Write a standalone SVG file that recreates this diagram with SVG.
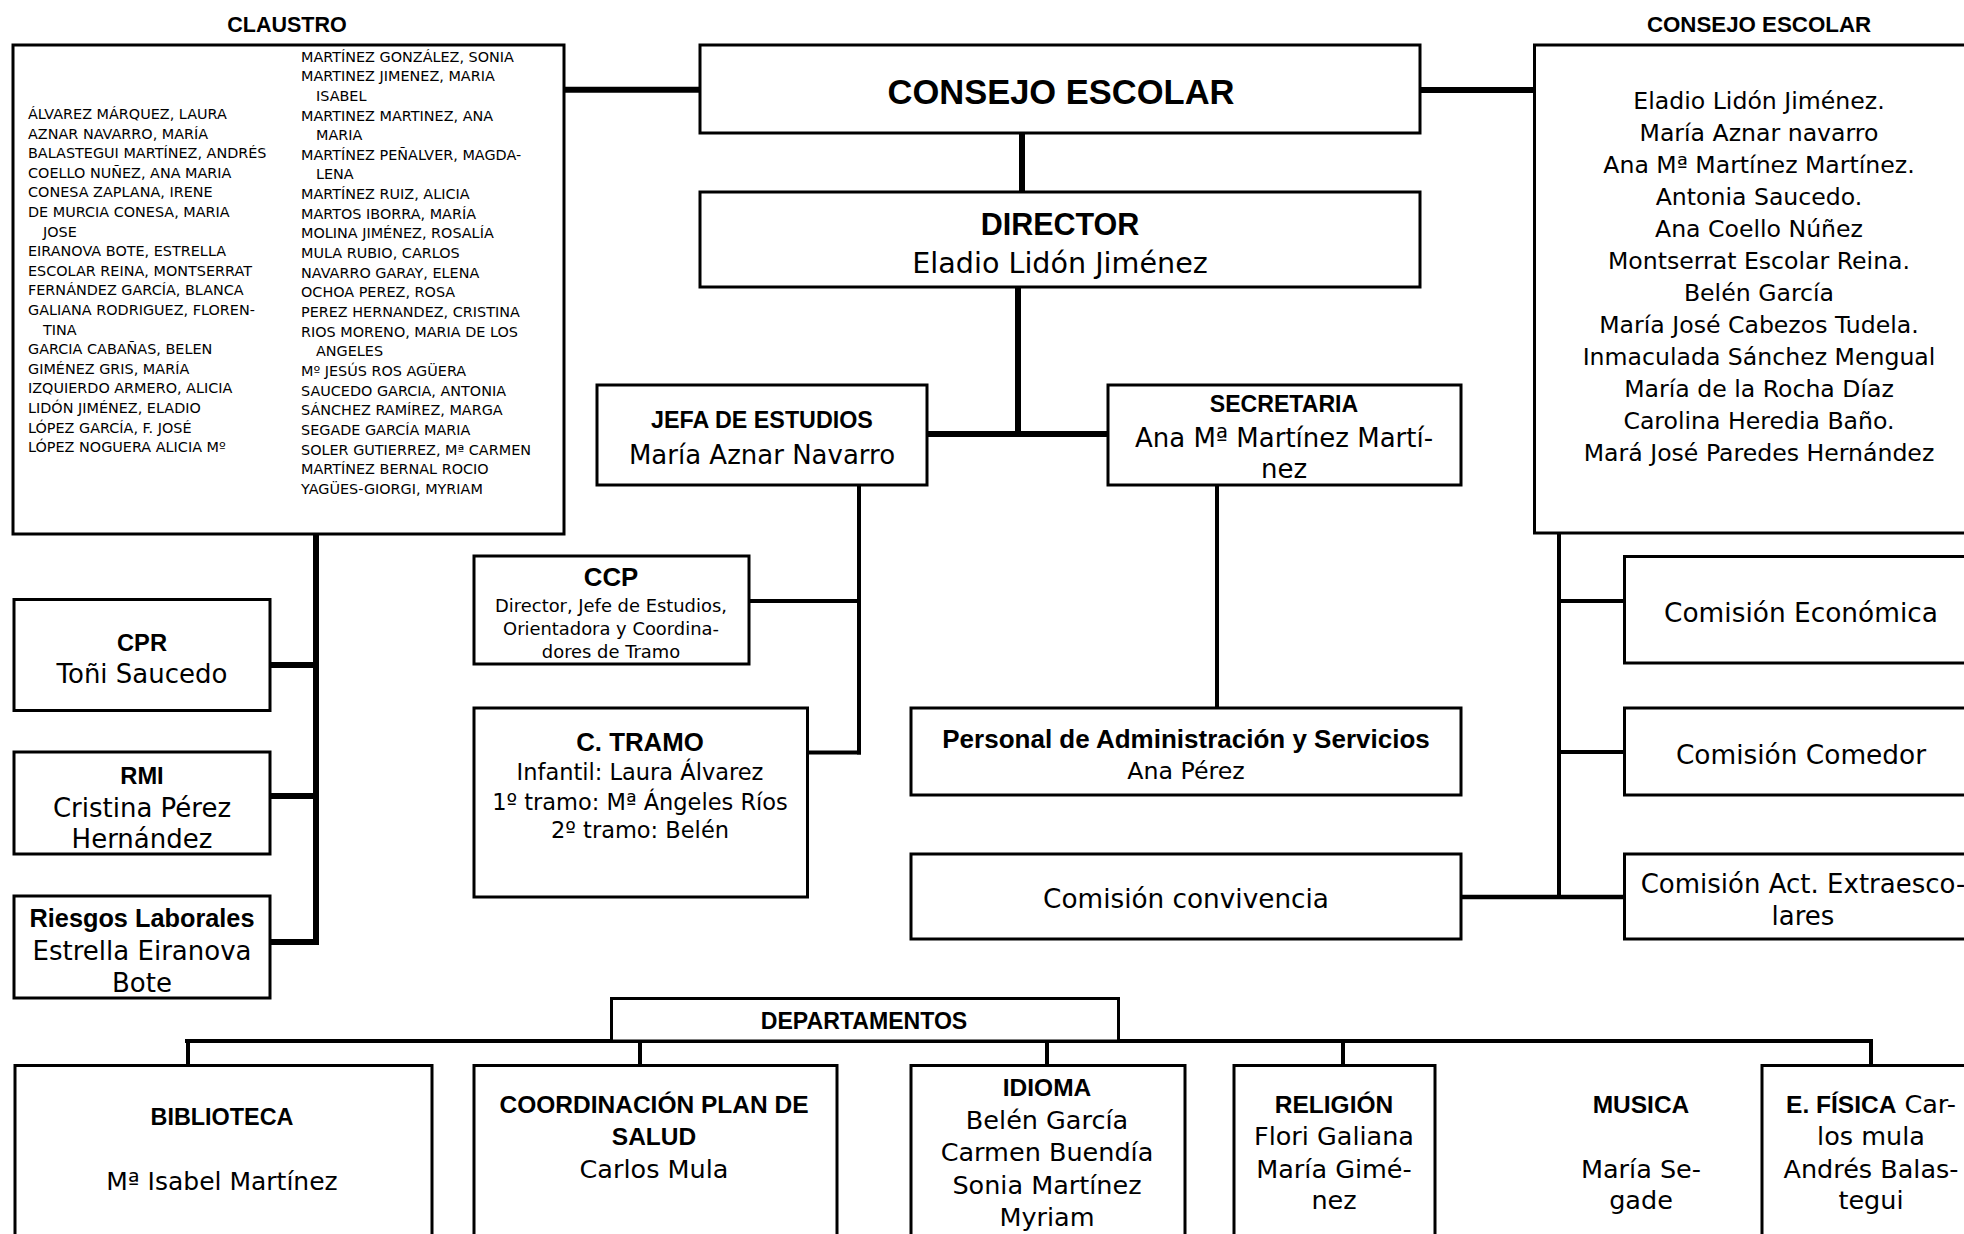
<svg xmlns="http://www.w3.org/2000/svg" width="1964" height="1234" viewBox="0 0 1964 1234">
<style>
.bx{fill:#fff;stroke:#000;stroke-width:3}
.c{fill:none;stroke:#000;stroke-linecap:butt}
.k{stroke-width:6}
.m{stroke-width:4}
.b{font-family:"Liberation Sans",Arial,sans-serif;font-weight:bold;fill:#000}
.r{font-family:"DejaVu Sans",sans-serif;fill:#000}
.mid{text-anchor:middle}
.cl{font-family:"DejaVu Sans",sans-serif;font-size:14.4px;fill:#000}
</style>
<rect width="1964" height="1234" fill="#fff"/>

<g id="connectors">
  <line class="c k" x1="564" y1="89.7" x2="700" y2="89.7"/>
  <line class="c k" x1="1420" y1="90" x2="1534" y2="90"/>
  <line class="c k" x1="1022" y1="133" x2="1022" y2="192"/>
  <line class="c k" x1="1018" y1="287" x2="1018" y2="434"/>
  <line class="c k" x1="927" y1="434" x2="1108" y2="434"/>
  <line class="c k" x1="316" y1="534" x2="316" y2="945"/>
  <line class="c k" x1="270" y1="665" x2="319" y2="665"/>
  <line class="c k" x1="270" y1="796" x2="319" y2="796"/>
  <line class="c k" x1="270" y1="942" x2="319" y2="942"/>
  <line class="c m" x1="859" y1="484" x2="859" y2="754.5"/>
  <line class="c m" x1="749" y1="601" x2="861" y2="601"/>
  <line class="c m" x1="807" y1="752.5" x2="861" y2="752.5"/>
  <line class="c m" x1="1217" y1="484" x2="1217" y2="708"/>
  <line class="c m" x1="1559" y1="533" x2="1559" y2="897"/>
  <line class="c m" x1="1559" y1="601" x2="1625" y2="601"/>
  <line class="c m" x1="1559" y1="752" x2="1625" y2="752"/>
  <line class="c" style="stroke-width:4.5" x1="1461" y1="897" x2="1625" y2="897"/>
  <line class="c m" x1="185" y1="1041" x2="1873" y2="1041"/>
  <line class="c m" x1="188" y1="1041" x2="188" y2="1065"/>
  <line class="c m" x1="640" y1="1041" x2="640" y2="1065"/>
  <line class="c m" x1="1047" y1="1041" x2="1047" y2="1065"/>
  <line class="c m" x1="1343" y1="1041" x2="1343" y2="1065"/>
  <line class="c m" x1="1871" y1="1041" x2="1871" y2="1065"/>
</g>

<g id="claustro">
  <text class="b mid" x="287" y="31.5" font-size="21.5">CLAUSTRO</text>
  <rect class="bx" x="13" y="45" width="551" height="489"/>
  <g class="cl">
    <text x="28" y="119">ÁLVAREZ MÁRQUEZ, LAURA</text>
    <text x="28" y="138.6">AZNAR NAVARRO, MARÍA</text>
    <text x="28" y="158.2">BALASTEGUI MARTÍNEZ, ANDRÉS</text>
    <text x="28" y="177.8">COELLO NUÑEZ, ANA MARIA</text>
    <text x="28" y="197.4">CONESA ZAPLANA, IRENE</text>
    <text x="28" y="217">DE MURCIA CONESA, MARIA</text>
    <text x="43" y="236.6">JOSE</text>
    <text x="28" y="256.2">EIRANOVA BOTE, ESTRELLA</text>
    <text x="28" y="275.8">ESCOLAR REINA, MONTSERRAT</text>
    <text x="28" y="295.4">FERNÁNDEZ GARCÍA, BLANCA</text>
    <text x="28" y="315">GALIANA RODRIGUEZ, FLOREN-</text>
    <text x="43" y="334.6">TINA</text>
    <text x="28" y="354.2">GARCIA CABAÑAS, BELEN</text>
    <text x="28" y="373.8">GIMÉNEZ GRIS, MARÍA</text>
    <text x="28" y="393.4">IZQUIERDO ARMERO, ALICIA</text>
    <text x="28" y="413">LIDÓN JIMÉNEZ, ELADIO</text>
    <text x="28" y="432.6">LÓPEZ GARCÍA, F. JOSÉ</text>
    <text x="28" y="452.2">LÓPEZ NOGUERA ALICIA Mº</text>
    <text x="301" y="61.5">MARTÍNEZ GONZÁLEZ, SONIA</text>
    <text x="301" y="81.2">MARTINEZ JIMENEZ, MARIA</text>
    <text x="316" y="100.8">ISABEL</text>
    <text x="301" y="120.5">MARTINEZ MARTINEZ, ANA</text>
    <text x="316" y="140.1">MARIA</text>
    <text x="301" y="159.8">MARTÍNEZ PEÑALVER, MAGDA-</text>
    <text x="316" y="179.4">LENA</text>
    <text x="301" y="199.1">MARTÍNEZ RUIZ, ALICIA</text>
    <text x="301" y="218.7">MARTOS IBORRA, MARÍA</text>
    <text x="301" y="238.4">MOLINA JIMÉNEZ, ROSALÍA</text>
    <text x="301" y="258">MULA RUBIO, CARLOS</text>
    <text x="301" y="277.7">NAVARRO GARAY, ELENA</text>
    <text x="301" y="297.3">OCHOA PEREZ, ROSA</text>
    <text x="301" y="317">PEREZ HERNANDEZ, CRISTINA</text>
    <text x="301" y="336.6">RIOS MORENO, MARIA DE LOS</text>
    <text x="316" y="356.3">ANGELES</text>
    <text x="301" y="375.9">Mº JESÚS ROS AGÜERA</text>
    <text x="301" y="395.6">SAUCEDO GARCIA, ANTONIA</text>
    <text x="301" y="415.2">SÁNCHEZ RAMÍREZ, MARGA</text>
    <text x="301" y="434.9">SEGADE GARCÍA MARIA</text>
    <text x="301" y="454.5">SOLER GUTIERREZ, Mª CARMEN</text>
    <text x="301" y="474.2">MARTÍNEZ BERNAL ROCIO</text>
    <text x="301" y="493.8">YAGÜES-GIORGI, MYRIAM</text>
  </g>
</g>

<g id="consejo-escolar">
  <rect class="bx" x="700" y="45" width="720" height="88"/>
  <text class="b mid" x="1061" y="103.5" font-size="34.5">CONSEJO ESCOLAR</text>
</g>

<g id="consejo-miembros">
  <text class="b mid" x="1759" y="32" font-size="22.3">CONSEJO ESCOLAR</text>
  <rect class="bx" x="1534.5" y="45" width="460" height="488"/>
  <g class="r mid" font-size="23.6">
    <text x="1759" y="108.5">Eladio Lidón Jiménez.</text>
    <text x="1759" y="140.5">María Aznar navarro</text>
    <text x="1759" y="172.5">Ana Mª Martínez Martínez.</text>
    <text x="1759" y="204.5">Antonia Saucedo.</text>
    <text x="1759" y="236.5">Ana Coello Núñez</text>
    <text x="1759" y="268.5">Montserrat Escolar Reina.</text>
    <text x="1759" y="300.5">Belén García</text>
    <text x="1759" y="332.5">María José Cabezos Tudela.</text>
    <text x="1759" y="364.5">Inmaculada Sánchez Mengual</text>
    <text x="1759" y="396.5">María de la Rocha Díaz</text>
    <text x="1759" y="428.5">Carolina Heredia Baño.</text>
    <text x="1759" y="460.5">Mará José Paredes Hernández</text>
  </g>
</g>

<g id="director">
  <rect class="bx" x="700" y="192" width="720" height="95"/>
  <text class="b mid" x="1060" y="235" font-size="30.5">DIRECTOR</text>
  <text class="r mid" x="1060" y="273" font-size="28.6">Eladio Lidón Jiménez</text>
</g>

<g id="jefa-estudios">
  <rect class="bx" x="597" y="385" width="330" height="100"/>
  <text class="b mid" x="762" y="427.5" font-size="23.3">JEFA DE ESTUDIOS</text>
  <text class="r mid" x="762" y="463.5" font-size="26">María Aznar Navarro</text>
</g>

<g id="secretaria">
  <rect class="bx" x="1108" y="385" width="353" height="100"/>
  <text class="b mid" x="1284" y="411.5" font-size="23.1">SECRETARIA</text>
  <text class="r mid" x="1284" y="446.5" font-size="26">Ana Mª Martínez Martí-</text>
  <text class="r mid" x="1284" y="477.5" font-size="26">nez</text>
</g>

<g id="cpr">
  <rect class="bx" x="14" y="599.5" width="256" height="111"/>
  <text class="b mid" x="142" y="650.5" font-size="23.7">CPR</text>
  <text class="r mid" x="142" y="682.5" font-size="26">Toñi Saucedo</text>
</g>

<g id="rmi">
  <rect class="bx" x="14" y="752" width="256" height="102"/>
  <text class="b mid" x="142" y="783.5" font-size="23.7">RMI</text>
  <text class="r mid" x="142" y="816.5" font-size="26">Cristina Pérez</text>
  <text class="r mid" x="142" y="847.5" font-size="26">Hernández</text>
</g>

<g id="riesgos">
  <rect class="bx" x="14" y="896" width="256" height="102"/>
  <text class="b mid" x="142" y="926.5" font-size="25.3">Riesgos Laborales</text>
  <text class="r mid" x="142" y="959.5" font-size="26">Estrella Eiranova</text>
  <text class="r mid" x="142" y="991.5" font-size="26">Bote</text>
</g>

<g id="ccp">
  <rect class="bx" x="474" y="556" width="275" height="108"/>
  <text class="b mid" x="611" y="586" font-size="25.8">CCP</text>
  <text class="r mid" x="611" y="611.5" font-size="17.9">Director, Jefe de Estudios,</text>
  <text class="r mid" x="611" y="634.5" font-size="17.9">Orientadora y Coordina-</text>
  <text class="r mid" x="611" y="657.5" font-size="17.9">dores de Tramo</text>
</g>

<g id="c-tramo">
  <rect class="bx" x="474" y="708" width="333.5" height="189"/>
  <text class="b mid" x="640" y="751" font-size="25.8">C. TRAMO</text>
  <text class="r mid" x="640" y="780" font-size="22.5">Infantil: Laura Álvarez</text>
  <text class="r mid" x="640" y="810" font-size="22.5">1º tramo: Mª Ángeles Ríos</text>
  <text class="r mid" x="640" y="838" font-size="22.5">2º tramo: Belén</text>
</g>

<g id="pas">
  <rect class="bx" x="911" y="708" width="550" height="87"/>
  <text class="b mid" x="1186" y="748" font-size="26">Personal de Administración y Servicios</text>
  <text class="r mid" x="1186" y="779" font-size="23.7">Ana Pérez</text>
</g>

<g id="comision-convivencia">
  <rect class="bx" x="911" y="854" width="550" height="85"/>
  <text class="r mid" x="1186" y="907.5" font-size="26.3">Comisión convivencia</text>
</g>

<g id="comision-economica">
  <rect class="bx" x="1624.5" y="556.5" width="369" height="106.5"/>
  <text class="r mid" x="1801" y="621.5" font-size="26.4">Comisión Económica</text>
</g>

<g id="comision-comedor">
  <rect class="bx" x="1624.5" y="708" width="369" height="87"/>
  <text class="r mid" x="1801" y="763.5" font-size="26.4">Comisión Comedor</text>
</g>

<g id="comision-extraescolares">
  <rect class="bx" x="1624.5" y="854" width="369" height="85"/>
  <text class="r mid" x="1803" y="892.5" font-size="26">Comisión Act. Extraesco-</text>
  <text class="r mid" x="1803" y="924.5" font-size="26">lares</text>
</g>

<g id="departamentos">
  <rect class="bx" x="611.5" y="998.5" width="507" height="42.5"/>
  <text class="b mid" x="864" y="1029" font-size="23.1">DEPARTAMENTOS</text>
</g>

<g id="biblioteca">
  <rect class="bx" x="15" y="1065.5" width="417" height="190"/>
  <text class="b mid" x="222" y="1124.5" font-size="23.4">BIBLIOTECA</text>
  <text class="r mid" x="222" y="1190" font-size="25">Mª Isabel Martínez</text>
</g>

<g id="plan-salud">
  <rect class="bx" x="474" y="1065.5" width="363" height="190"/>
  <text class="b mid" x="654" y="1112.5" font-size="24.5">COORDINACIÓN PLAN DE</text>
  <text class="b mid" x="654" y="1145" font-size="24.5">SALUD</text>
  <text class="r mid" x="654" y="1177.5" font-size="25.5">Carlos Mula</text>
</g>

<g id="idioma">
  <rect class="bx" x="911" y="1065.5" width="274" height="190"/>
  <text class="b mid" x="1047" y="1095.5" font-size="24.5">IDIOMA</text>
  <text class="r mid" x="1047" y="1128.5" font-size="25.5">Belén García</text>
  <text class="r mid" x="1047" y="1161" font-size="25.5">Carmen Buendía</text>
  <text class="r mid" x="1047" y="1193.5" font-size="25.5">Sonia Martínez</text>
  <text class="r mid" x="1047" y="1226" font-size="25.5">Myriam</text>
</g>

<g id="religion">
  <rect class="bx" x="1234" y="1065.5" width="201" height="190"/>
  <text class="b mid" x="1334" y="1112.5" font-size="24.5">RELIGIÓN</text>
  <text class="r mid" x="1334" y="1145" font-size="25.5">Flori Galiana</text>
  <text class="r mid" x="1334" y="1177.5" font-size="25.5">María Gimé-</text>
  <text class="r mid" x="1334" y="1209" font-size="25.5">nez</text>
</g>

<g id="musica">
  <text class="b mid" x="1641" y="1112.5" font-size="24.5">MUSICA</text>
  <text class="r mid" x="1641" y="1177.5" font-size="25.5">María Se-</text>
  <text class="r mid" x="1641" y="1209" font-size="25.5">gade</text>
</g>

<g id="educacion-fisica">
  <rect class="bx" x="1762" y="1065.5" width="232" height="190"/>
  <text class="mid" x="1871" y="1112.5" font-size="25.5"><tspan class="b" font-size="24.5">E. FÍSICA</tspan><tspan class="r"> Car-</tspan></text>
  <text class="r mid" x="1871" y="1145" font-size="25.5">los mula</text>
  <text class="r mid" x="1871" y="1177.5" font-size="25.5">Andrés Balas-</text>
  <text class="r mid" x="1871" y="1209" font-size="25.5">tegui</text>
</g>
</svg>
